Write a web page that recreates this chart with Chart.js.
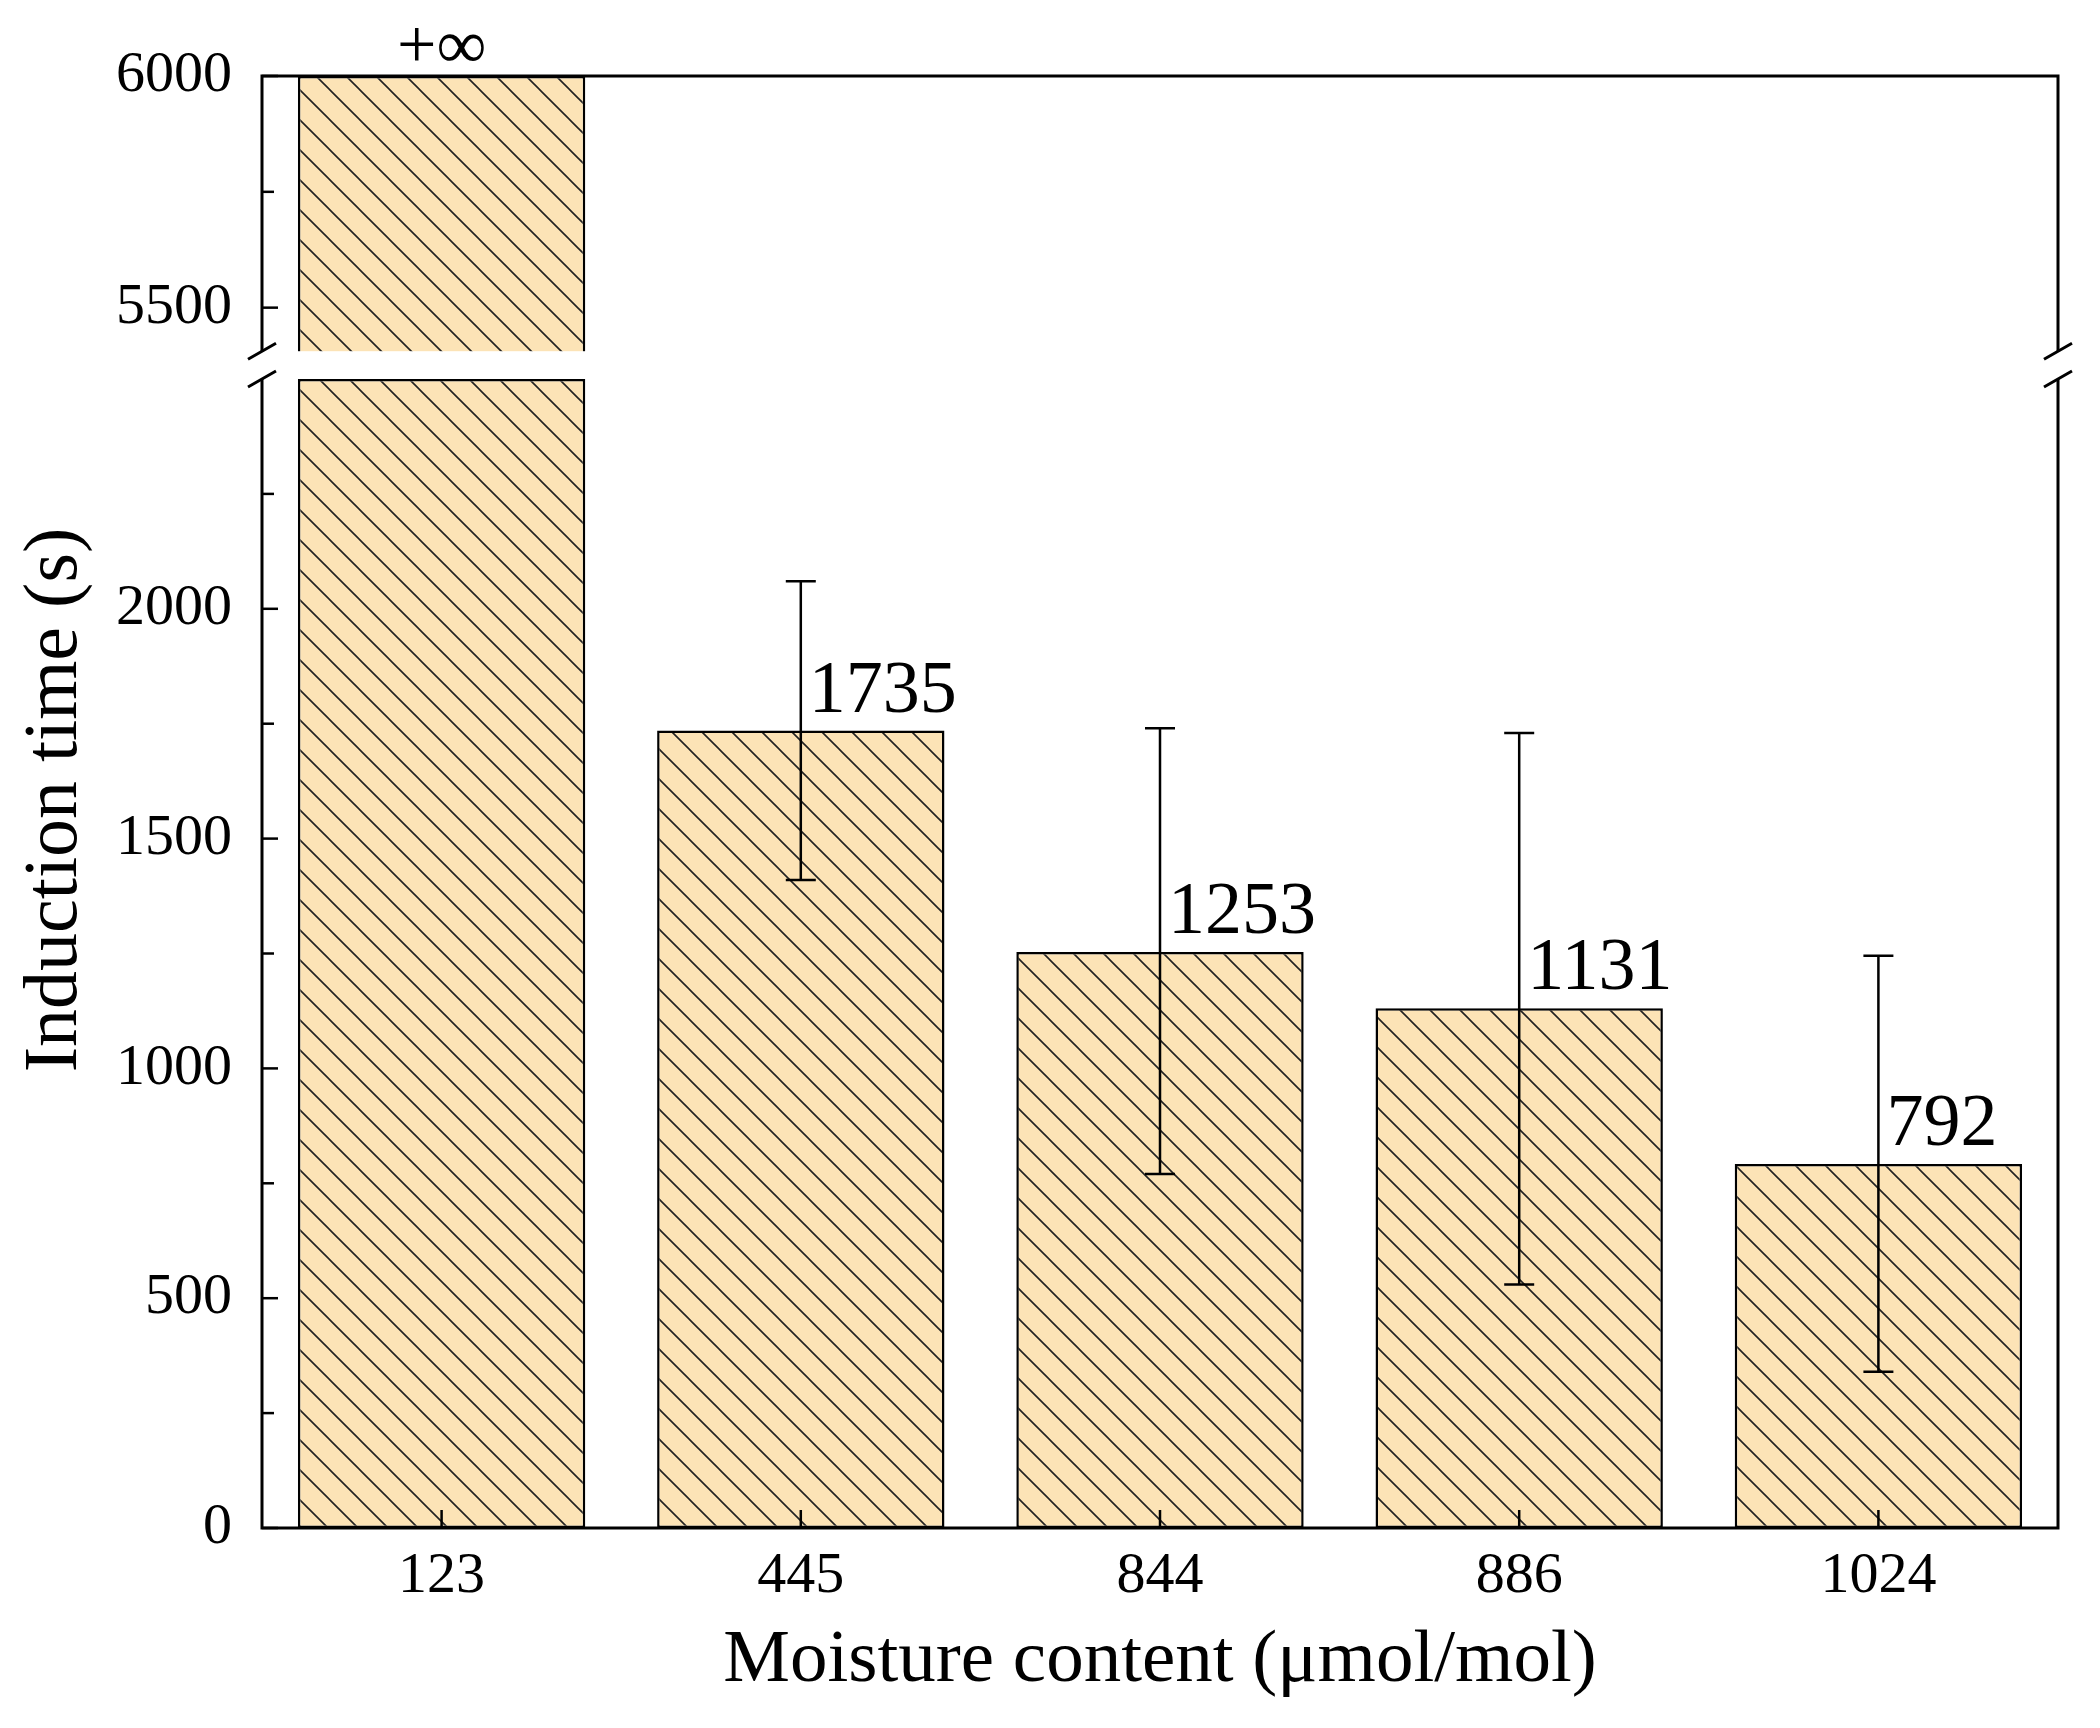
<!DOCTYPE html>
<html><head><meta charset="utf-8">
<script src="https://cdn.jsdelivr.net/npm/chart.js@4"></script>
<style>html,body{margin:0;padding:0;background:#fff}canvas{display:block}</style>
</head><body>
<canvas id="c" width="2100" height="1728"></canvas>
<script>
const categories = ['123','445','844','886','1024'];
const lowerValues = [2500, 1735, 1253, 1131, 792];
const upperValues = [6000, null, null, null, null];
const errHigh = [null, 2060, 1740, 1730, 1245];
const errLow = [null, 1410, 770, 530, 340];
const valueLabels = ['+∞', '1735', '1253', '1131', '792'];
const lowerLabelTicks = [0, 500, 1000, 1500, 2000];
const upperLabelTicks = [5500, 6000];

const FONT = '"Liberation Serif", "Times New Roman", serif';
Chart.defaults.font.family = FONT;
Chart.defaults.color = '#000';

function makePattern() {
  const s = 30, c = document.createElement('canvas');
  c.width = s; c.height = s;
  const g = c.getContext('2d');
  g.fillStyle = '#FCE3B6'; g.fillRect(0, 0, s, s);
  g.strokeStyle = '#222'; g.lineWidth = 1.6;
  g.beginPath();
  g.moveTo(-s, 0); g.lineTo(s, 2 * s);
  g.moveTo(0, 0); g.lineTo(s, s);
  g.moveTo(0, -s); g.lineTo(2 * s, s);
  g.stroke();
  return g.createPattern(c, 'repeat');
}
const pat = makePattern();

const GAP_LO = 5346, GAP_HI = 5406;

const overlay = {
  id: 'overlay',
  afterDatasetsDraw(chart) {
    const ctx = chart.ctx, a = chart.chartArea;
    const x = chart.scales.x, y = chart.scales.y, y2 = chart.scales.y2;
    ctx.save();
    const gTop = y2.getPixelForValue(GAP_HI), gBot = y.getPixelForValue(2500);
    ctx.fillStyle = '#fff';
    ctx.fillRect(a.left - 30, gTop, a.right - a.left + 60, gBot - gTop);
    ctx.strokeStyle = '#000'; ctx.lineWidth = 3;
    ctx.beginPath();
    ctx.moveTo(a.left, gTop); ctx.lineTo(a.left, a.top); ctx.lineTo(a.right, a.top); ctx.lineTo(a.right, gTop);
    ctx.moveTo(a.left, gBot); ctx.lineTo(a.left, a.bottom); ctx.lineTo(a.right, a.bottom); ctx.lineTo(a.right, gBot);
    ctx.stroke();
    [a.left, a.right].forEach(px => {
      ctx.beginPath();
      ctx.moveTo(px - 14, gTop + 8); ctx.lineTo(px + 14, gTop - 8);
      ctx.moveTo(px - 14, gBot + 8); ctx.lineTo(px + 14, gBot - 8);
      ctx.stroke();
    });
    ctx.lineWidth = 2.5;
    [[y, 250, 0, 2250], [y2, 250, 5500, 6000]].forEach(([sc, st, lo, hi]) => {
      for (let v = lo; v <= hi; v += st) {
        const py = sc.getPixelForValue(v);
        const len = (v % 500 === 0) ? 16 : 12;
        ctx.beginPath(); ctx.moveTo(a.left, py); ctx.lineTo(a.left + len, py); ctx.stroke();
      }
    });
    categories.forEach((c, i) => {
      const px = x.getPixelForValue(i);
      ctx.beginPath(); ctx.moveTo(px, a.bottom); ctx.lineTo(px, a.bottom - 18); ctx.stroke();
    });
    ctx.lineWidth = 2.5;
    categories.forEach((c, i) => {
      if (errHigh[i] == null) return;
      const px = x.getPixelForValue(i);
      const ph = y.getPixelForValue(errHigh[i]), pl = y.getPixelForValue(errLow[i]);
      ctx.beginPath();
      ctx.moveTo(px, ph); ctx.lineTo(px, pl);
      ctx.moveTo(px - 15, ph); ctx.lineTo(px + 15, ph);
      ctx.moveTo(px - 15, pl); ctx.lineTo(px + 15, pl);
      ctx.stroke();
    });
    ctx.fillStyle = '#000';
    categories.forEach((c, i) => {
      const px = x.getPixelForValue(i);
      if (i === 0) {
        ctx.font = '70px ' + FONT; ctx.textAlign = 'center'; ctx.textBaseline = 'alphabetic';
        ctx.fillText(valueLabels[i], px, y2.getPixelForValue(upperValues[0]) - 8);
      } else {
        ctx.font = '74px ' + FONT; ctx.textAlign = 'left'; ctx.textBaseline = 'alphabetic';
        ctx.fillText(valueLabels[i], px + 8, y.getPixelForValue(lowerValues[i]) - 19);
      }
    });
    ctx.font = '76px ' + FONT; ctx.textAlign = 'center'; ctx.textBaseline = 'middle';
    ctx.translate(56, 800); ctx.rotate(-Math.PI / 2);
    ctx.fillText('Induction time (s)', 0, 0);
    ctx.restore();
  }
};

new Chart(document.getElementById('c'), {
  type: 'bar',
  data: {
    labels: categories,
    datasets: [
      { data: lowerValues, yAxisID: 'y', backgroundColor: pat, borderColor: '#000', borderWidth: 2.5, borderSkipped: false, grouped: false },
      { data: upperValues.map(v => v == null ? null : [GAP_LO, v]), yAxisID: 'y2', backgroundColor: pat, borderColor: '#000', borderWidth: 2.5, borderSkipped: false, grouped: false }
    ]
  },
  options: {
    responsive: false, devicePixelRatio: 1, animation: false,
    layout: { padding: { top: 76, right: 42, left: 0, bottom: 0 } },
    plugins: { legend: { display: false }, tooltip: { enabled: false } },
    datasets: { bar: { categoryPercentage: 1, barPercentage: 0.8 } },
    scales: {
      x: {
        grid: { display: false, drawTicks: false }, border: { display: false },
        ticks: { font: { size: 58, family: FONT }, color: '#000', padding: 14 },
        title: { display: true, text: 'Moisture content (μmol/mol)', font: { size: 75, family: FONT }, color: '#000', padding: { top: 0, bottom: 22 } },
        afterFit(s) { s.height = 200; }
      },
      y: {
        position: 'left', stack: 'st', stackWeight: 1149, min: 0, max: 2500,
        grid: { display: false, drawTicks: false }, border: { display: false },
        afterBuildTicks(s) { s.ticks = lowerLabelTicks.map(v => ({ value: v })); },
        ticks: { font: { size: 58, family: FONT }, color: '#000', padding: 30, callback: v => String(v) },
        afterFit(s) { s.width = 262; }
      },
      y2: {
        position: 'left', stack: 'st', stackWeight: 303, min: GAP_LO, max: 6000,
        grid: { display: false, drawTicks: false }, border: { display: false },
        afterBuildTicks(s) { s.ticks = upperLabelTicks.map(v => ({ value: v })); },
        ticks: { font: { size: 58, family: FONT }, color: '#000', padding: 30, callback: v => String(v) },
        afterFit(s) { s.width = 262; }
      }
    }
  },
  plugins: [overlay]
});
</script>
</body></html>
